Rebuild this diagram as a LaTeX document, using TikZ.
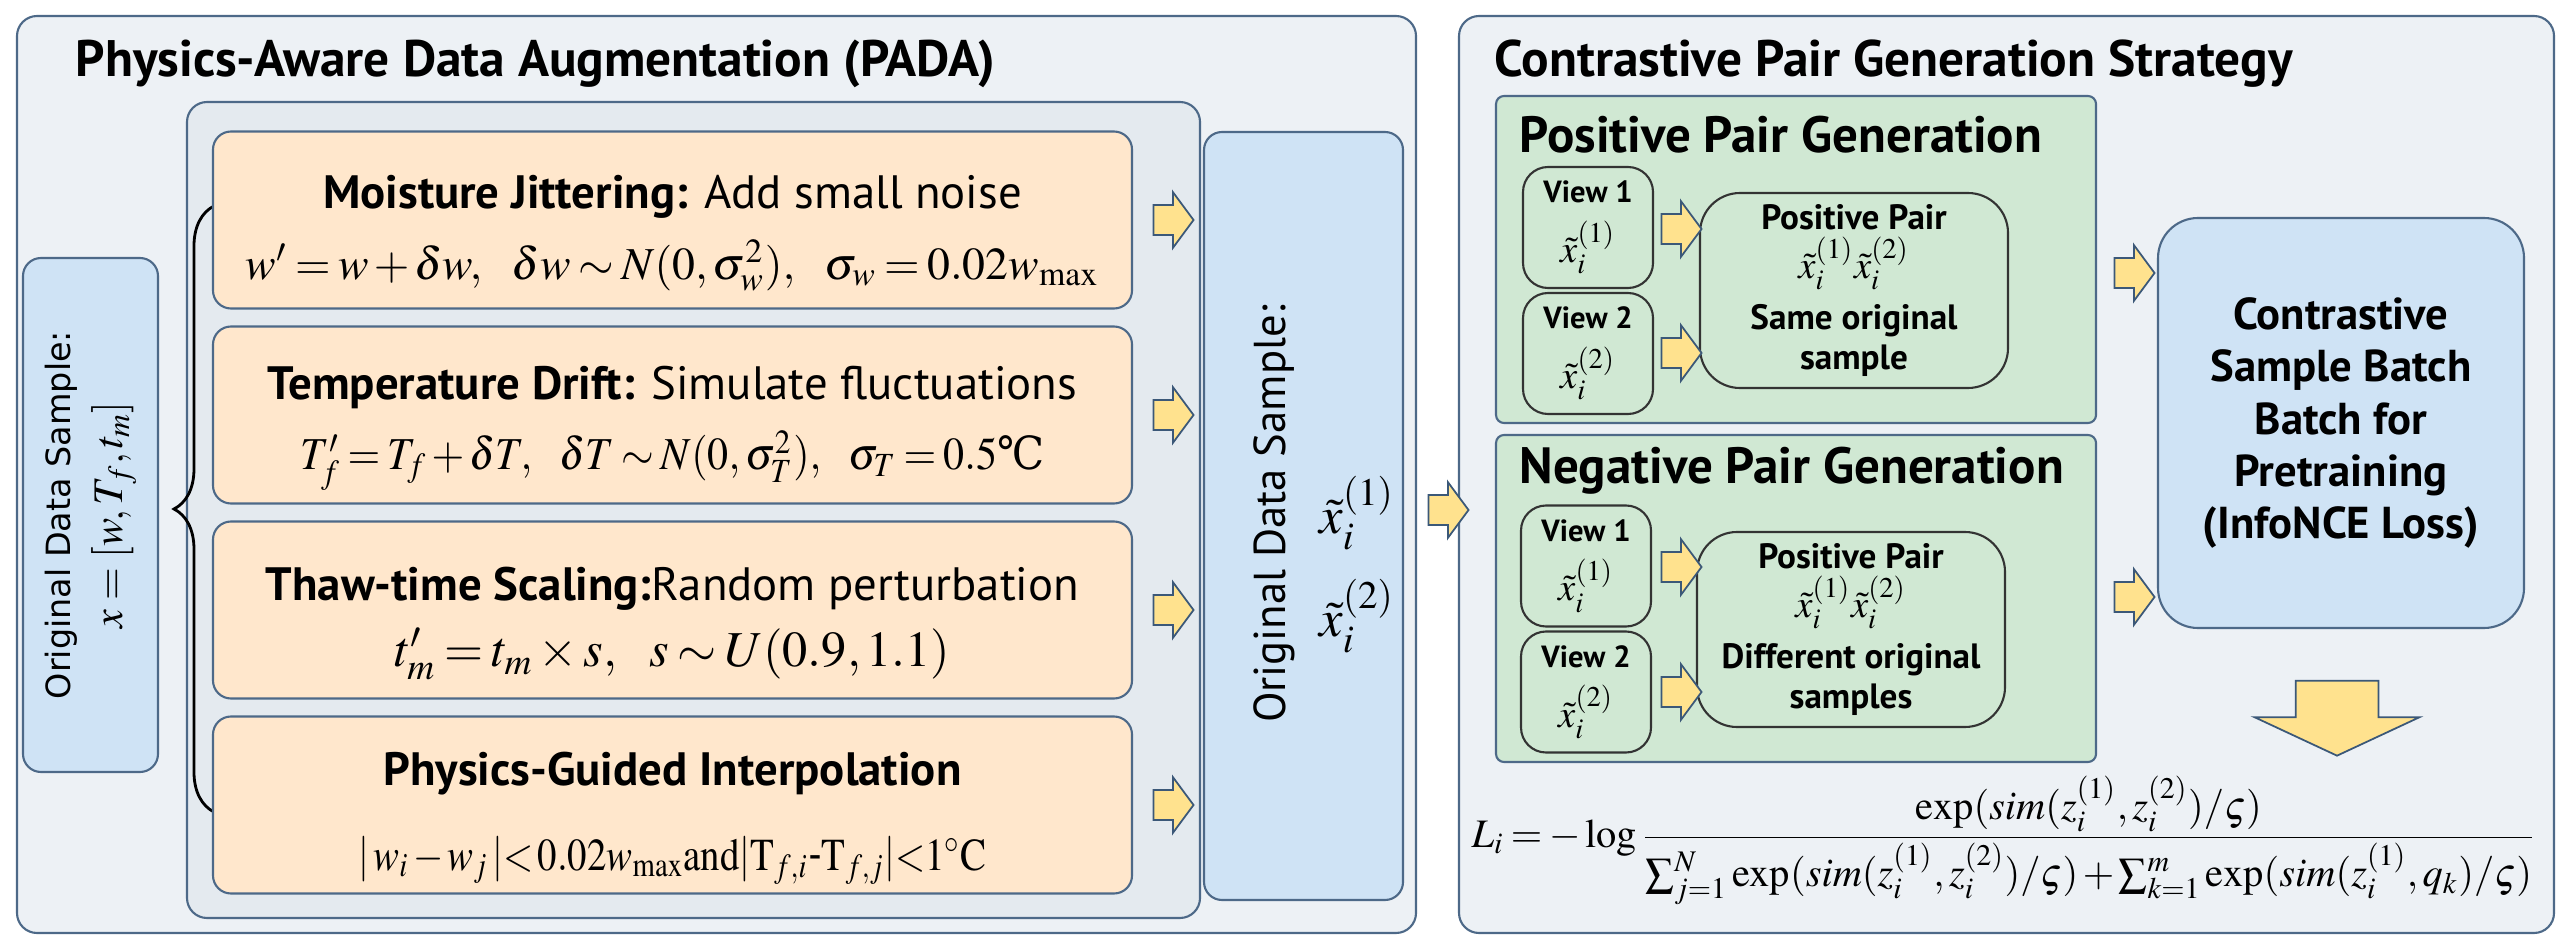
\documentclass[tikz,border=0pt]{standalone}
\usepackage{amsmath}
\usepackage{graphicx}
\usepackage{mathptmx}
\usepackage[no-math]{fontspec}
\setmainfont{PT Sans}
\newfontfamily\widesans{DejaVu Sans}
\newfontfamily\degfont{DejaVu Serif}
\usetikzlibrary{positioning,shapes.arrows,decorations.pathreplacing}
\definecolor{panelfill}{HTML}{EDF1F5}
\definecolor{panelline}{HTML}{4D6988}
\definecolor{setfill}{HTML}{E4EAEF}
\definecolor{samplefill}{HTML}{CFE3F5}
\definecolor{stepfill}{HTML}{FFE7CC}
\definecolor{genfill}{HTML}{D0E8D3}
\definecolor{arrowfill}{HTML}{FFE28E}
\definecolor{arrowline}{HTML}{3B5878}
\newcommand{\degC}{{\degfont ℃}}
\newcommand{\tightmath}{\medmuskip=2mu\thickmuskip=3mu}
\newcommand{\topgap}{\rule{0pt}{17pt}}

\begin{document}
\begin{tikzpicture}[x=0.01cm,y=-0.01cm,
  wh/.style 2 args={minimum width=#1*0.01cm,minimum height=#2*0.01cm},
  panel/.style={draw=panelline,fill=panelfill,line width=0.6pt,rounded corners=0.2cm,inner sep=0pt},
  setbox/.style={draw=panelline,fill=setfill,line width=0.6pt,rounded corners=0.2cm,inner sep=0pt},
  samplebox/.style={draw=panelline,fill=samplefill,line width=0.6pt,rounded corners=0.18cm,inner sep=0pt,align=center},
  stepbox/.style={draw=panelline,fill=stepfill,line width=0.6pt,rounded corners=0.18cm,inner sep=0pt,
    align=center,wh={919}{177},font=\fontsize{13.3}{16}\selectfont},
  genbox/.style={draw=panelline,fill=genfill,line width=0.6pt,rounded corners=0.08cm,inner sep=0pt,wh={600}{327}},
  viewbox/.style={draw=black!80,fill=genfill,line width=0.6pt,rounded corners=0.25cm,inner sep=0pt,
    align=center,wh={130}{121},font=\fontsize{8.7}{10}\selectfont\bfseries},
  pairbox/.style={draw=black!80,fill=genfill,line width=0.6pt,rounded corners=0.4cm,inner sep=0pt,
    align=center,wh={308}{195},font=\fontsize{10}{11.5}\selectfont\bfseries},
  titletext/.style={anchor=base west,inner sep=0pt,font=\fontsize{14.6}{16}\selectfont\bfseries},
  gentitle/.style={anchor=base west,inner sep=0pt,font=\fontsize{14.5}{16}\selectfont\bfseries},
  rarr/.style={single arrow,draw=arrowline,fill=arrowfill,line width=0.5pt,inner xsep=0pt,inner ysep=0.14cm,
    minimum height=0.4cm,single arrow head extend=0.13cm,single arrow tip angle=107},
  darr/.style={single arrow,draw=arrowline,fill=arrowfill,line width=0.5pt,inner xsep=0pt,inner ysep=0.405cm,
    minimum height=0.75cm,single arrow head extend=0.41cm,single arrow tip angle=130,rotate=-90}
]
\useasboundingbox (0,0) rectangle (2567,949);

% the two panels
\node[panel,wh={1399}{917}] (pada) at (716.5,474.5) {};
\node[panel,wh={1095}{917}] (cpg) at (2006.5,474.5) {};
\node[titletext] (padatitle) at (75,77) {Physics-Aware Data Augmentation (PADA)};
\node[titletext] (cpgtitle) at (1494,77) {Contrastive Pair Generation Strategy};

% augmentation steps
\node[setbox,wh={1013}{816}] (augset) at (693.5,510) {};
\node[samplebox,rotate=90,wh={514}{135},font=\fontsize{9.5}{15}\selectfont\widesans] (orig) at (90.5,515)
  {Original Data Sample:\\{\fontsize{12}{14}\selectfont$x=[w,T_f,t_m]$}};
\draw[line width=0.8pt,decorate,decoration={brace,amplitude=0.4cm}] (214,812) -- (214,206);

\node[stepbox] (mj) at (672.5,220) {\topgap\textbf{Moisture Jittering:} Add small noise\\[4pt]%
  {\tightmath\fontsize{13}{15}\selectfont$w'=w+\delta w,\ \ \delta w\sim N(0,\sigma_w^2),\ \ \sigma_w=0.02w_{\max}$}};
\node[stepbox] (td) at (672.5,415) {\topgap\textbf{Temperature Drift:} Simulate fluctuations\\[4pt]%
  {\tightmath\fontsize{13}{15}\selectfont\scalebox{0.92}[1]{$T_f'=T_f+\delta T,\ \ \delta T\sim N(0,\sigma_T^2),\ \ \sigma_T=0.5$\degC}}};
\node[stepbox] (ts) at (672.5,610) {\topgap\textbf{Thaw-time Scaling:}Random perturbation\\[3pt]%
  {\tightmath\fontsize{14.3}{16}\selectfont$t_m'=t_m\times s,\ \ s\sim U(0.9,1.1)$}};
\node[stepbox] (pg) at (672.5,805) {\topgap\textbf{Physics-Guided Interpolation}\\[8pt]%
  {\tightmath\fontsize{13}{15}\selectfont\scalebox{0.85}[1]{$|\,w_i-w_j\,|{<}\,0.02w_{\max}\mathrm{and}|\mathrm{T}_{f,i}$-$\mathrm{T}_{f,j}|{<}1^{\circ}\mathrm{C}$}}};
\foreach \y [count=\i] in {220,415,610,805}
  \node[rarr] (sa\i) at (1168,\y) {};

% augmented views
\node[samplebox,wh={199}{768}] (augout) at (1303.5,516) {};
\node[rotate=90,inner sep=0pt,font=\fontsize{12.7}{15}\selectfont] (augtxt) at (1274,514) {Original Data Sample:};
\node[inner sep=0pt,font=\fontsize{15}{17}\selectfont] (xv1) at (1357,513) {$\tilde{x}_i^{(1)}$};
\node[inner sep=0pt,font=\fontsize{15}{17}\selectfont] (xv2) at (1357,616) {$\tilde{x}_i^{(2)}$};
\node[rarr] (oa) at (1443,510) {};

% positive pairs
\node[genbox] (posgen) at (1796,259.5) {};
\node[gentitle] (postitle) at (1519,153) {Positive Pair Generation};
\node[viewbox] (pv1) at (1588,227.5) {View 1\\[4pt]\fontsize{11}{13}\selectfont$\tilde{x}_i^{(1)}$};
\node[viewbox] (pv2) at (1588,353.5) {View 2\\[4pt]\fontsize{11}{13}\selectfont$\tilde{x}_i^{(2)}$};
\node[pairbox] (ppair) at (1854,290.5) {Positive Pair\\[1pt]{\fontsize{11}{13}\selectfont$\tilde{x}_i^{(1)}\tilde{x}_i^{(2)}$}\\[3pt]Same original\\sample};
\node[rarr] (pa1) at (1676,229) {};
\node[rarr] (pa2) at (1676,353) {};

% negative pairs
\node[genbox] (neggen) at (1796,598.5) {};
\node[gentitle] (negtitle) at (1519,483) {Negative Pair Generation};
\node[viewbox] (nv1) at (1586,566) {View 1\\[4pt]\fontsize{11}{13}\selectfont$\tilde{x}_i^{(1)}$};
\node[viewbox] (nv2) at (1586,692) {View 2\\[4pt]\fontsize{11}{13}\selectfont$\tilde{x}_i^{(2)}$};
\node[pairbox] (npair) at (1851,629.5) {Positive Pair\\[1pt]{\fontsize{11}{13}\selectfont$\tilde{x}_i^{(1)}\tilde{x}_i^{(2)}$}\\[3pt]Different original\\samples};
\node[rarr] (na1) at (1676,567) {};
\node[rarr] (na2) at (1676,692) {};

% batch and loss
\node[samplebox,rounded corners=0.4cm,wh={366}{410},font=\fontsize{12.7}{14.8}\selectfont\bfseries] (batch) at (2341,423)
  {Contrastive\\Sample Batch\\Batch for\\Pretraining\\(InfoNCE Loss)};
\node[rarr] (ba1) at (2129,273) {};
\node[rarr] (ba2) at (2129,597) {};
\node[darr] (la) at (2337,708.5) {};
\node[inner sep=0pt,font=\fontsize{11.5}{14}\selectfont\tightmath] (loss) at (2004,840)
  {$L_i=-\log\dfrac{\exp(sim(z_i^{(1)},z_i^{(2)})/\varsigma)}{\sum\nolimits_{j=1}^{N}\exp(sim(z_i^{(1)},z_i^{(2)})/\varsigma)+\sum\nolimits_{k=1}^{m}\exp(sim(z_i^{(1)},q_k)/\varsigma)}$};
\end{tikzpicture}
\end{document}
